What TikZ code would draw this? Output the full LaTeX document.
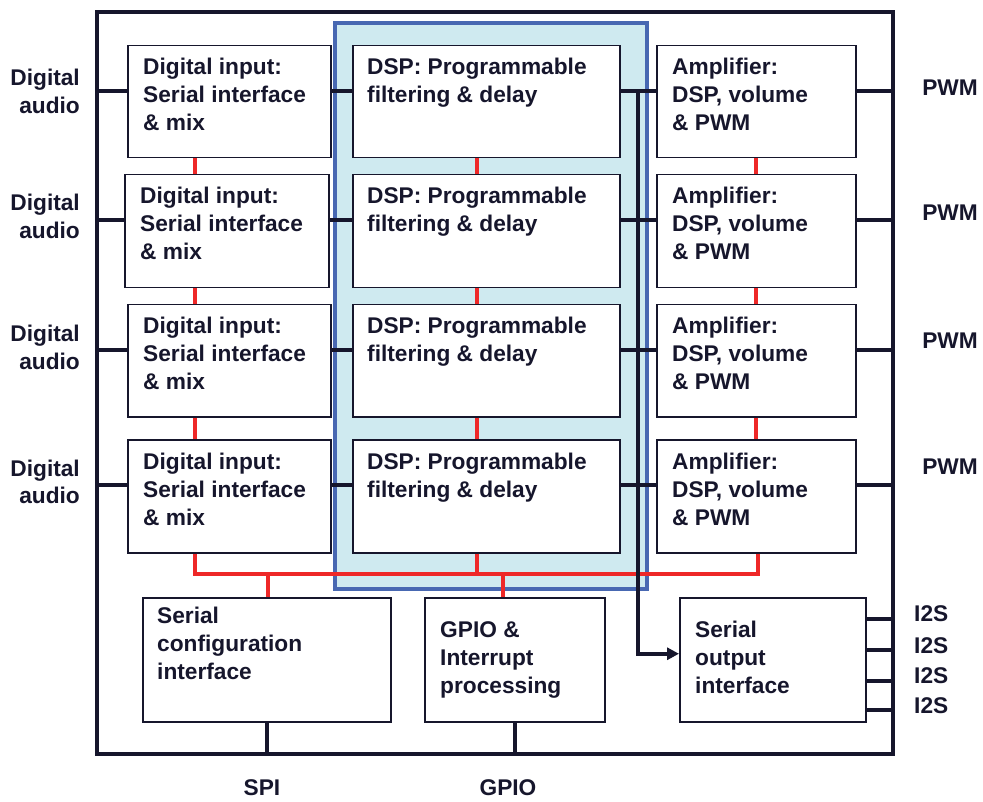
\documentclass[tikz,border=0pt]{standalone}
\usepackage{fontspec}
\setmainfont{Liberation Sans}
\usetikzlibrary{arrows.meta}
\definecolor{ink}{HTML}{16162C}
\definecolor{busred}{HTML}{EE2828}
\definecolor{zoneblue}{HTML}{4868B2}
\definecolor{zonefill}{HTML}{CFEAF0}
\newcommand\mkblock[8]{%
  \node[blk, minimum width=#4pt, minimum height=#5pt] (#1) at (#2,#3) {};
  \node[txt] (#1t) at ([xshift=#6pt, yshift=-#7pt]#1.north west) {\parbox[t]{300pt}{\raggedright #8}};}
\begin{document}
\begin{tikzpicture}[x=1pt,y=-1pt,
  blk/.style={draw=ink, line width=1.5pt, fill=white, inner sep=0pt, anchor=north west},
  txt/.style={inner sep=0pt, anchor=base west, text=ink, font=\fontsize{22.7}{28}\selectfont\bfseries},
  lbl/.style={inner sep=0pt, text=ink, font=\fontsize{22.7}{27.5}\selectfont\bfseries},
  wire/.style={draw=ink, line width=4pt},
  rwire/.style={draw=busred, line width=4pt}]
\path[use as bounding box, fill=white] (0,0) rectangle (983,802);

% outer chip and DSP zone
\node[draw=ink, line width=4pt, minimum width=796pt, minimum height=742pt, inner sep=0pt] (chip) at (495,383) {};
\node[draw=zoneblue, fill=zonefill, line width=3.5pt, minimum width=312pt, minimum height=566pt, inner sep=0pt] (zone) at (491,306) {};

% helper coordinates
\coordinate (rl) at (195,0);
\coordinate (rp) at (477,0);
\coordinate (rg) at (503,0);
\coordinate (bus) at (0,574);
\coordinate (tap) at (638,90);

% blocks
\mkblock{d1}{127}{45}{203}{112}{16}{30}{Digital input:\\Serial interface\\\& mix}
\mkblock{d2}{124}{174}{204}{113}{16}{30}{Digital input:\\Serial interface\\\& mix}
\mkblock{d3}{127}{304}{203}{112}{16}{30}{Digital input:\\Serial interface\\\& mix}
\mkblock{d4}{127}{439}{203}{113}{16}{30}{Digital input:\\Serial interface\\\& mix}
\mkblock{p1}{352}{45}{267}{112}{15}{30}{DSP: Programmable\\filtering \& delay}
\mkblock{p2}{352}{174}{267}{113}{15}{30}{DSP: Programmable\\filtering \& delay}
\mkblock{p3}{352}{304}{267}{112}{15}{30}{DSP: Programmable\\filtering \& delay}
\mkblock{p4}{352}{439}{267}{113}{15}{30}{DSP: Programmable\\filtering \& delay}
\mkblock{a1}{656}{45}{199}{112}{16}{30}{Amplifier:\\DSP, volume\\\& PWM}
\mkblock{a2}{656}{174}{199}{113}{16}{30}{Amplifier:\\DSP, volume\\\& PWM}
\mkblock{a3}{656}{304}{199}{112}{16}{30}{Amplifier:\\DSP, volume\\\& PWM}
\mkblock{a4}{656}{439}{199}{113}{16}{30}{Amplifier:\\DSP, volume\\\& PWM}
\mkblock{sc}{142}{597}{248}{124}{15}{26}{Serial\\configuration\\interface}
\mkblock{gp}{424}{597}{180}{124}{16}{40}{GPIO \&\\Interrupt\\processing}
\mkblock{so}{679}{597}{186}{124}{16}{40}{Serial\\output\\interface}

% red control bus
\foreach \u/\v in {d1/d2,d2/d3,d3/d4}{
  \draw[rwire] (\u.south -| rl) -- (\v.north -| rl);}
\foreach \u/\v in {p1/p2,p2/p3,p3/p4}{
  \draw[rwire] (\u.south -| rp) -- (\v.north -| rp);}
\foreach \u/\v in {a1/a2,a2/a3,a3/a4}{
  \draw[rwire] (\u.south) -- (\v.north);}
\draw[rwire] (d4.south -| rl) -- (rl |- bus) -- ([xshift=2pt]a4.south |- bus) -- ([xshift=2pt]a4.south);
\draw[rwire] (p4.south -| rp) -- (rp |- bus);
\draw[rwire] ([xshift=1pt]sc.north |- bus) -- ([xshift=1pt]sc.north);
\draw[rwire] (rg |- bus) -- (sc.north -| rg);

% black signal wires
\foreach \i in {1,2,3,4}{
  \draw[wire] ([yshift=11pt]d\i.west) -- ([yshift=11pt]d\i.west -| chip.west);
  \draw[wire] ([yshift=11pt]d\i.east) -- ([yshift=11pt]p\i.west);
  \draw[wire] ([yshift=11pt]p\i.east) -- ([yshift=11pt]a\i.west);
  \draw[wire] ([yshift=11pt]a\i.east) -- ([yshift=11pt]a\i.east -| chip.east);
}
\draw[wire, -{Triangle[length=12pt,width=12pt]}] (tap) |- ([yshift=6pt]so.west);
\foreach \s in {41,10,-21,-50}{
  \draw[wire] ([yshift=\s pt]so.east) -- ([yshift=\s pt]so.east -| chip.east);}
\draw[wire] (sc.south) -- (sc.south |- chip.south);
\draw[wire] (gp.south) -- (gp.south |- chip.south);

% outer labels
\foreach \n/\y in {1/86,2/211,3/342,4/476}{
  \node[lbl, anchor=base east] (da\n) at (80,\y) {\parbox[t]{100pt}{\raggedleft Digital\\audio}};}
\foreach \n/\y in {1/96,2/221,3/349,4/474}{
  \node[lbl, anchor=base east] (pwm\n) at (978,\y) {PWM};}
\foreach \n/\y in {1/621,2/653,3/683,4/713}{
  \node[lbl, anchor=base west] (i2s\n) at (914,\y) {I2S};}
\node[lbl, anchor=base] (spi) at (262,795) {SPI};
\node[lbl, anchor=base] (gpio) at (508,795) {GPIO};
\end{tikzpicture}
\end{document}
